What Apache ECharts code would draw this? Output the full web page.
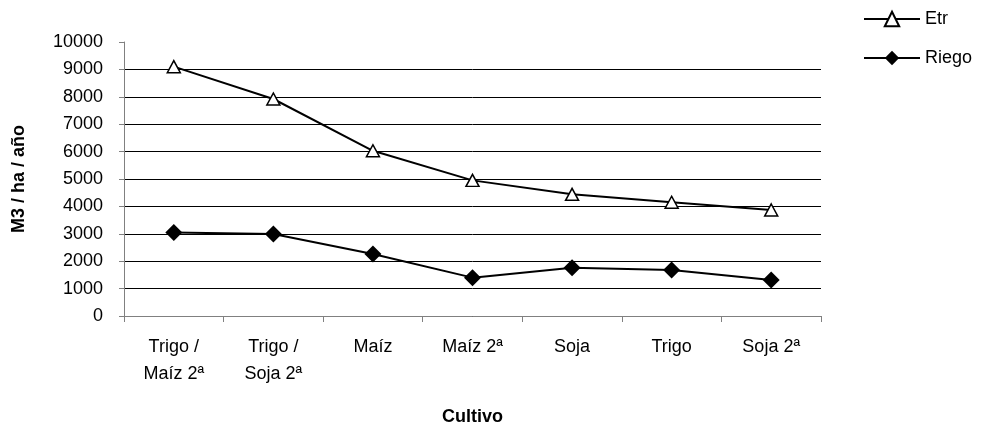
<!DOCTYPE html>
<html>
<head>
<meta charset="utf-8">
<script src="https://cdn.jsdelivr.net/npm/echarts@6/dist/echarts.min.js"></script>
<style>
  html, body { margin: 0; padding: 0; background: #fff; }
  #chart { width: 981px; height: 430px; }
</style>
</head>
<body>
<div id="chart"></div>
<script>
// Water use per crop (m3 / ha / year)
const cultivos = ['Trigo /\nMaíz 2ª', 'Trigo /\nSoja 2ª', 'Maíz', 'Maíz 2ª', 'Soja', 'Trigo', 'Soja 2ª'];
const etr = [9100, 7920, 6030, 4950, 4440, 4150, 3870];
const riego = [3050, 2990, 2260, 1400, 1760, 1680, 1310];

const FONT = '"Liberation Sans", Arial, sans-serif';

// one colour per horizontal grid line (0 … 10000); the top one is left out
const gridColors = [];
for (let i = 0; i <= 10; i++) gridColors.push(i === 10 ? 'rgba(0,0,0,0)' : '#000');

const chart = echarts.init(document.getElementById('chart'), null, { renderer: 'canvas' });
chart.setOption({
  animation: false,
  backgroundColor: '#fff',
  textStyle: { fontFamily: FONT, color: '#000' },
  grid: { left: 124, right: 160, top: 42, bottom: 114, containLabel: false, outerBoundsMode: 'none' },
  legend: {
    left: 858,
    top: 5,
    orient: 'vertical',
    itemWidth: 56,
    itemHeight: 18,
    itemGap: 21,
    textStyle: { fontFamily: FONT, fontSize: 18, color: '#000' },
    data: ['Etr', 'Riego']
  },
  xAxis: {
    type: 'category',
    data: cultivos,
    boundaryGap: true,
    name: 'Cultivo',
    nameLocation: 'middle',
    nameGap: 101,
    nameTextStyle: { fontFamily: FONT, fontSize: 18, fontWeight: 'bold', color: '#000', verticalAlign: 'middle' },
    axisLine: { lineStyle: { color: '#808080', width: 1 } },
    axisTick: { show: true, alignWithLabel: false, length: 6, inside: false, lineStyle: { color: '#808080' } },
    axisLabel: { interval: 0, margin: 18, fontFamily: FONT, fontSize: 18, lineHeight: 27, color: '#000' },
    splitLine: { show: false }
  },
  yAxis: {
    type: 'value',
    min: 0,
    max: 10000,
    interval: 1000,
    name: 'M3 / ha / año',
    nameLocation: 'middle',
    nameGap: 105,
    nameRotate: 90,
    nameTextStyle: { fontFamily: FONT, fontSize: 18, fontWeight: 'bold', color: '#000', verticalAlign: 'middle' },
    axisLine: { show: true, lineStyle: { color: '#808080', width: 1 } },
    axisTick: { show: true, length: 5, lineStyle: { color: '#808080' } },
    axisLabel: { margin: 21, fontFamily: FONT, fontSize: 18, color: '#000', formatter: v => String(v) },
    splitLine: { show: true, lineStyle: { color: gridColors, width: 1 } }
  },
  series: [
    {
      name: 'Etr',
      type: 'line',
      data: etr,
      symbol: 'triangle',
      symbolSize: [13, 12],
      lineStyle: { color: '#000', width: 2 },
      itemStyle: { color: '#fff', borderColor: '#000', borderWidth: 1.5 },
      z: 3
    },
    {
      name: 'Riego',
      type: 'line',
      data: riego,
      symbol: 'diamond',
      symbolSize: [17, 17],
      lineStyle: { color: '#000', width: 2 },
      itemStyle: { color: '#000', borderColor: '#000', borderWidth: 0 },
      z: 3
    }
  ]
});
</script>
</body>
</html>
